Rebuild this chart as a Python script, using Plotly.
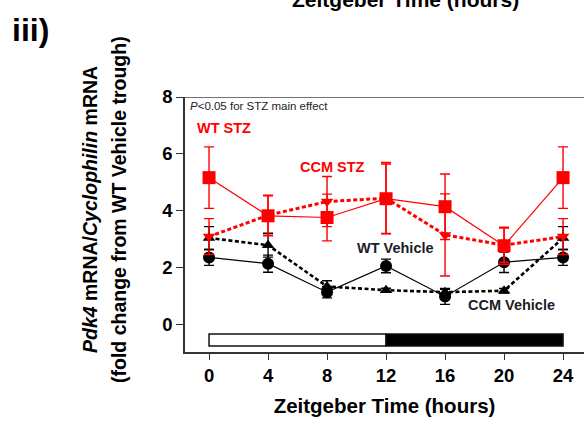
import plotly.graph_objects as go

# Zeitgeber time points (hours); ZT24 re-plots ZT0
zt = [0, 4, 8, 12, 16, 20, 24]
x_ticks = [0, 4, 8, 12, 16, 20, 24]
y_ticks = [0, 2, 4, 6, 8]

# Pdk4 expression, fold change from WT Vehicle trough (mean and SEM)
wt_vehicle = [2.37, 2.15, 1.15, 2.07, 1.0, 2.2, 2.37]
wt_vehicle_err = [0.28, 0.3, 0.2, 0.24, 0.28, 0.36, 0.28]
ccm_vehicle = [3.05, 2.8, 1.35, 1.22, 1.15, 1.2, 3.05]
ccm_vehicle_err = [0.4, 0.42, 0.2, 0.07, 0.1, 0.08, 0.4]
wt_stz = [5.17, 3.83, 3.77, 4.43, 4.15, 2.78, 5.17]
wt_stz_err = [1.08, 0.7, 0.82, 1.22, 1.15, 0.65, 1.08]
ccm_stz = [3.1, 3.85, 4.33, 4.45, 3.16, 2.8, 3.1]
ccm_stz_err = [0.63, 0.7, 0.88, 1.25, 1.44, 0.6, 0.63]

# light (white) / dark (black) phases
light_dark = [(0, 12, "white"), (12, 24, "black")]

FONT = "Liberation Sans, Arial, sans-serif"
RED = "#ff0000"
BLACK = "#000000"
TXT = "#1c1c28"
SHORT_DASH = "4px,2.5px"

fig = go.Figure()


def add_series(y, err, color, symbol, size, dash, lw):
    fig.add_trace(go.Scatter(
        x=zt, y=y, mode="lines+markers",
        line=dict(color=color, width=lw, dash=dash),
        marker=dict(symbol=symbol, size=size, color=color),
        error_y=dict(type="data", array=err, visible=True,
                     color=color, thickness=1.4, width=5),
        showlegend=False, cliponaxis=False,
    ))


add_series(wt_vehicle, wt_vehicle_err, BLACK, "circle", 12, "solid", 1.2)
add_series(ccm_vehicle, ccm_vehicle_err, BLACK, "triangle-up", 11, SHORT_DASH, 2.6)
add_series(wt_stz, wt_stz_err, RED, "square", 13, "solid", 1.2)
add_series(ccm_stz, ccm_stz_err, RED, "triangle-down", 11, SHORT_DASH, 3)

shapes = []
for x0, x1, fill in light_dark:
    shapes.append(dict(type="rect", xref="x", yref="y", x0=x0, x1=x1,
                       y0=-0.74, y1=-0.32, fillcolor=fill,
                       line=dict(color="#111", width=1.5), layer="above"))
# top frame line
shapes.append(dict(type="line", xref="paper", yref="y", x0=0, x1=1, y0=8, y1=8,
                   line=dict(color="#444", width=1.5)))

annotations = [
    dict(text="<i>P</i><0.05 for STZ main effect", x=0.008, y=0.965,
         xref="paper", yref="paper", xanchor="left", yanchor="middle",
         showarrow=False, font=dict(family=FONT, size=11.5, color=TXT)),
    dict(text="<b>WT STZ</b>", x=195, y=128, xanchor="left"),
    dict(text="<b>CCM STZ</b>", x=298, y=167, xanchor="left"),
    dict(text="<b>WT Vehicle</b>", x=355, y=248, xanchor="left"),
    dict(text="<b>CCM Vehicle</b>", x=466, y=305, xanchor="left"),
]

# convert pixel-placed labels into paper coordinates of the plot area
L, T, W, H = 185, 97, 399, 255
fixed = [annotations[0]]
colors = [RED, RED, TXT, TXT]
for a, c in zip(annotations[1:], colors):
    fixed.append(dict(text=a["text"], xref="paper", yref="paper",
                      x=(a["x"] - L) / W, y=(T + H - a["y"]) / H,
                      xanchor="left", yanchor="middle", showarrow=False,
                      font=dict(family=FONT, size=14.5, color=c)))

fixed += [
    dict(text="<b>iii)</b>", xref="paper", yref="paper",
         x=(10 - L) / W, y=(T + H - 30) / H, xanchor="left", yanchor="middle",
         showarrow=False, font=dict(family=FONT, size=32, color="#000")),
    dict(text="<b>Zeitgeber Time (hours)</b>", xref="paper", yref="paper",
         x=(405 - L) / W, y=(T + H + 1) / H, xanchor="center", yanchor="middle",
         showarrow=False, font=dict(family=FONT, size=21, color="#000")),
    dict(text="<b><i>Pdk4</i> mRNA/<i>Cyclophilin</i> mRNA</b>", xref="paper",
         yref="paper", x=(90 - L) / W, y=(T + H - 210) / H, textangle=-90,
         xanchor="center", yanchor="middle", showarrow=False,
         font=dict(family=FONT, size=19.5, color="#000")),
    dict(text="<b>(fold change from WT Vehicle trough)</b>", xref="paper",
         yref="paper", x=(119 - L) / W, y=(T + H - 210) / H, textangle=-90,
         xanchor="center", yanchor="middle", showarrow=False,
         font=dict(family=FONT, size=19.5, color="#000")),
]

fig.update_layout(
    width=584, height=425,
    margin=dict(l=L, r=584 - L - W, t=T, b=425 - T - H),
    paper_bgcolor="white", plot_bgcolor="white",
    shapes=shapes, annotations=fixed,
    xaxis=dict(range=[-1.63, 25.42], tickvals=x_ticks,
               ticktext=[f"<b>{v}</b>" for v in x_ticks],
               showgrid=False, zeroline=False, showline=True,
               linecolor="#333", linewidth=1.5, ticks="outside", ticklen=6,
               tickwidth=1.2, tickcolor="#333",
               tickfont=dict(family=FONT, size=18.5, color="#000"),
               title=dict(text="<b>Zeitgeber Time (hours)</b>", standoff=14,
                          font=dict(family=FONT, size=20.5, color="#000"))),
    yaxis=dict(range=[-0.95, 8], tickvals=y_ticks,
               ticktext=[f"<b>{v}</b>" for v in y_ticks],
               showgrid=False, zeroline=False, showline=True,
               linecolor="#333", linewidth=1.5, ticks="outside", ticklen=7,
               tickwidth=1.2, tickcolor="#333",
               tickfont=dict(family=FONT, size=18.5, color="#000")),
)

fig.write_html("out.html")
